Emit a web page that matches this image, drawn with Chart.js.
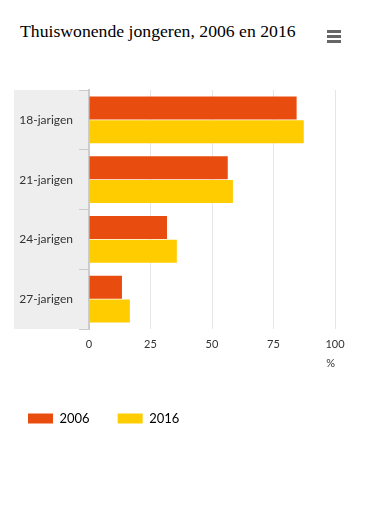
<!DOCTYPE html>
<html>
<head>
<meta charset="utf-8">
<script src="https://cdn.jsdelivr.net/npm/chart.js@4"></script>
<style>
  html, body { margin: 0; padding: 0; background: #fff; }
  #wrap { position: relative; width: 370px; height: 525px; overflow: hidden; }
  #title {
    position: absolute; left: 20px; top: 21px;
    font-family: "Liberation Serif", "DejaVu Serif", serif;
    font-size: 17.7px; color: #000; white-space: nowrap;
  }
  #menu { position: absolute; left: 327px; top: 30px; width: 14px; }
  #menu span { display: block; height: 3px; background: #666; margin-bottom: 2px; }
  #box { position: absolute; left: 0; top: 0; width: 370px; height: 445px; }
</style>
</head>
<body>
<div id="wrap">
  <div id="title">Thuiswonende jongeren, 2006 en 2016</div>
  <div id="menu"><span></span><span></span><span></span></div>
  <div id="box"><canvas id="chart"></canvas></div>
</div>
<script>
// Data
const categories = ["18-jarigen", "21-jarigen", "24-jarigen", "27-jarigen"];
const seriesNames = ["2006", "2016"];
const values2006 = [84.4, 56.4, 31.7, 13.4];
const values2016 = [87.3, 58.5, 35.7, 16.6];
const xTicks = [0, 25, 50, 75, 100];
const unitLabel = "%";

const colors = ["#e84c0e", "#ffcc00"];
const fontFam = "Lato, 'Open Sans', sans-serif";

// grijze achtergrond achter de categorie-as
const bandBg = {
  id: "bandBg",
  beforeDraw(chart) {
    const { ctx, chartArea } = chart;
    ctx.save();
    ctx.fillStyle = "#eeeeee";
    ctx.fillRect(14, chartArea.top, chartArea.left - 15, chartArea.bottom - chartArea.top);
    ctx.restore();
  }
};

new Chart(document.getElementById("chart"), {
  type: "bar",
  data: {
    labels: categories,
    datasets: [
      { label: seriesNames[0], data: values2006, backgroundColor: colors[0] },
      { label: seriesNames[1], data: values2016, backgroundColor: colors[1] }
    ]
  },
  options: {
    indexAxis: "y",
    responsive: true,
    maintainAspectRatio: false,
    animation: false,
    categoryPercentage: 0.8,
    barPercentage: 0.96,
    layout: { padding: { top: 90, right: 35, left: 0, bottom: 10 } },
    scales: {
      x: {
        min: 0, max: 100,
        afterBuildTicks: s => { s.ticks = xTicks.map(v => ({ value: v })); },
        afterFit: s => { s.height = 55; },
        grid: { color: "#e6e6e6", drawTicks: false },
        border: { display: false },
        ticks: { color: "#333", font: { family: fontFam, size: 11 }, padding: 9 },
        title: { display: true, text: unitLabel, align: "end", color: "#333",
                 font: { family: fontFam, size: 11 }, padding: { top: 0, bottom: 14 } }
      },
      y: {
        afterFit: s => { s.width = 89; },
        grid: { drawOnChartArea: false, drawTicks: true, tickLength: 10, color: "#cccccc" },
        border: { display: true, color: "#cccccc", width: 2 },
        ticks: { color: "#333", font: { family: fontFam, size: 12 }, padding: 6 }
      }
    },
    plugins: {
      legend: {
        position: "bottom",
        align: "start",
        labels: {
          boxWidth: 25, boxHeight: 10,
          color: "#000",
          font: { family: fontFam, size: 13 },
          padding: 28
        }
      },
      tooltip: { enabled: false }
    }
  },
  plugins: [bandBg]
});
</script>
</body>
</html>
